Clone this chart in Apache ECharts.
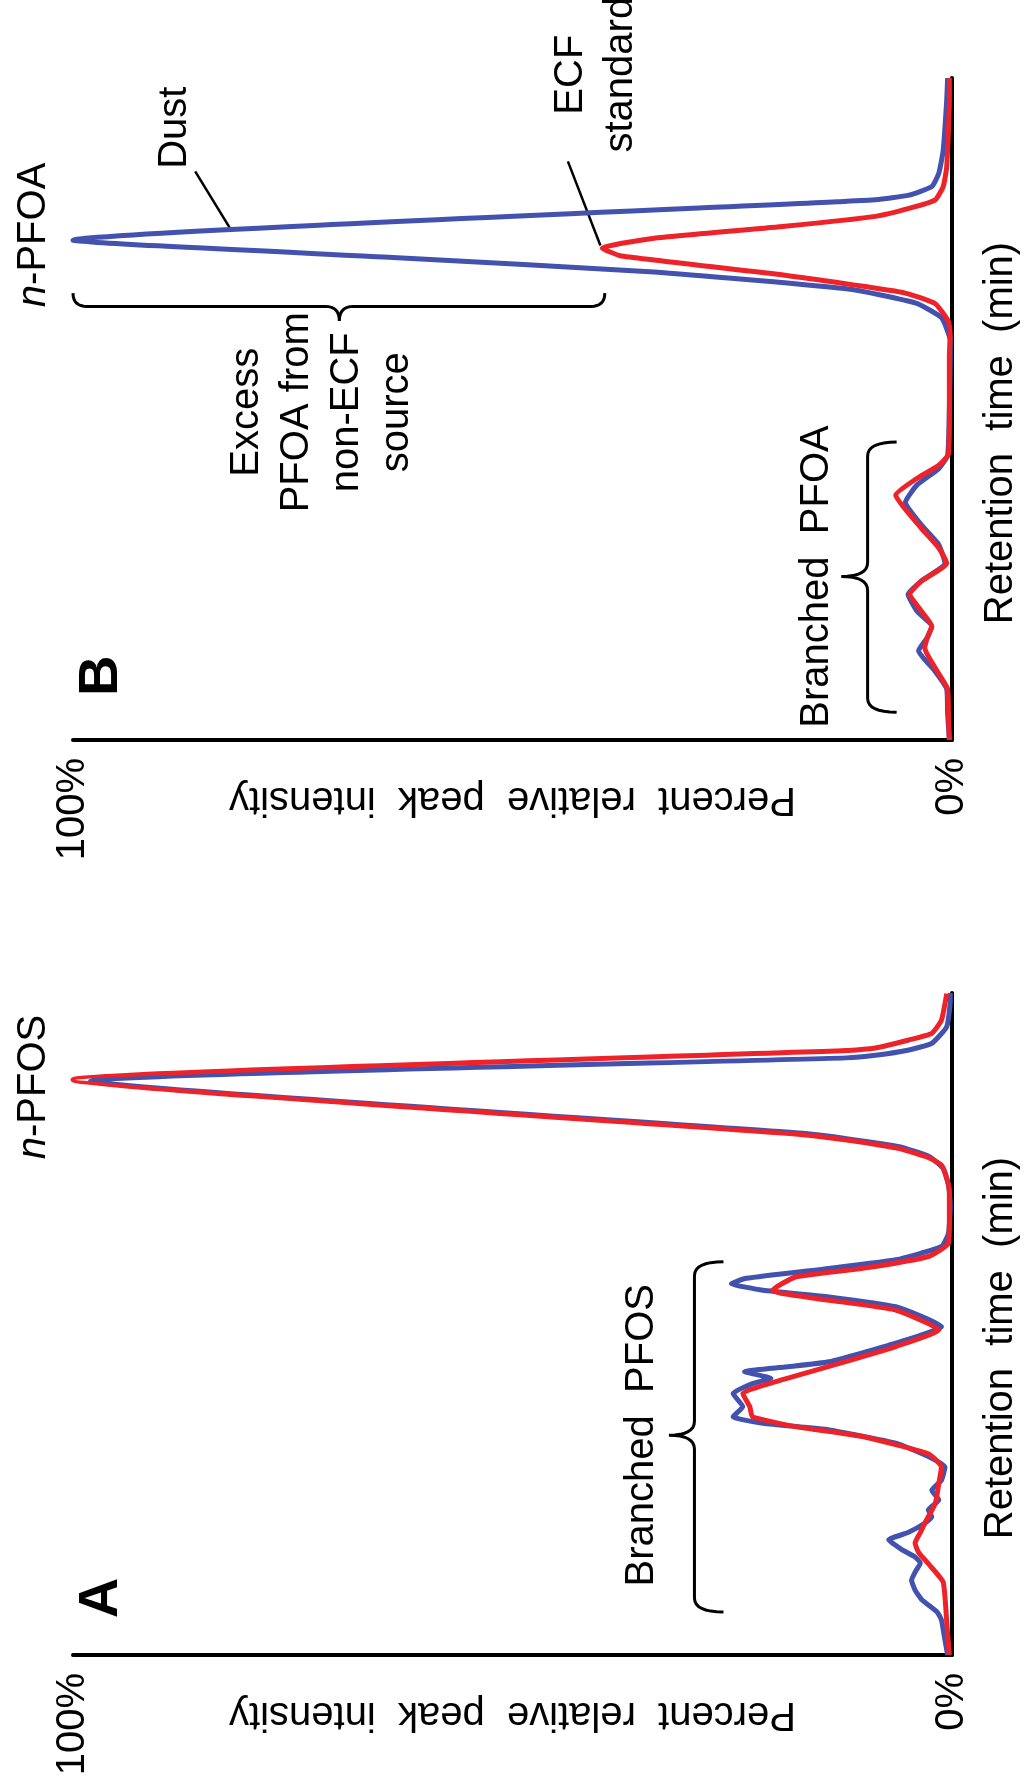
<!DOCTYPE html>
<html><head><meta charset="utf-8">
<script src="https://cdn.jsdelivr.net/npm/echarts@6/dist/echarts.min.js"></script>
<style>html,body{margin:0;padding:0;background:#fff}#c{width:1029px;height:1785px}</style>
</head><body><div id="c"></div>
<script>
// ---- DATA (retention position = % of run, intensity = % of largest peak) ----
// Panel A: PFOS
const pfosDustT = [0,3,5.3,6.5,8.3,9.8,11.3,12.5,13.9,14.8,16,17.4,18.5,19.9,20.9,21.9,23.4,24.9,26.4,28.4,30,32,34,35,36,37.5,39.5,41,41.8,42.8,43.5,44.3,47.1,49.6,52.6,54.1,55.1,56.1,56.9,58.4,59.7,61.7,63.7,68,71,73.5,75.3,76.8,78,78.8,86.7,90.2,90.6,91.4,92.4,94.9,98.9,100];
const pfosDustI = [0.5,0.9,1.2,1.7,3.4,4.2,4.6,4.2,3.6,4.2,5.8,7.2,5,3.1,2.3,2.7,1.5,2.3,1.2,0.8,2.7,6.4,14,21.5,24.9,23.8,24.9,22.7,20.6,23.6,19,14,6.4,1.2,6.4,14,21.5,25.1,23.4,14,6.4,1.2,0.4,0.2,0.4,1,2.6,6,12,17,98,12,8.7,4.9,2.3,0.6,0.2,0.2];
const pfosEcfT = [0,5,11,13.5,15.5,16.9,18.5,19.9,22.9,25.9,28.4,30.4,33,34.5,36,37.5,39.5,41,43.6,46.6,49.1,52.1,53.6,54.6,55.1,57.1,58.4,60.2,62.2,66,70,72,74,75.1,76.5,77.8,78.6,86.9,91.3,91.7,92.9,93.9,95.9,99.9];
const pfosEcfI = [0.3,0.6,1,2.5,3.8,4.2,3.6,3.1,1.9,1.5,1.2,2.7,10.2,17.8,22.7,23,23.8,20.8,14,6.4,1.5,6.4,14,19.3,20.4,17.8,10.2,2.7,0.4,0.3,0.3,0.6,1.2,2.6,6,12,17,100,12,8.7,4.9,2.3,1.2,0.6];
// Panel B: PFOA
const pfoaDustT = [0,4,7.7,10.5,13.5,15.5,17.2,19.5,22,24,26.7,29.5,32.5,35.9,38.5,41,43,50,58,60.3,63.8,66,68.1,70.7,72.9,75.5,81.3,81.6,82.3,83.6,85.6,89.1,96.7,100];
const pfoaDustI = [0.3,0.5,0.6,2,3.8,2.8,2.3,4,5,3.5,0.8,1.5,3.5,5.3,4,1.5,0.5,0.3,0.2,0.2,1.2,4.1,11.6,33.9,63.6,100,13.1,8.7,4.9,2.3,1.5,1,0.6,0.5];
const pfoaEcfT = [0,4,7.7,10,13.9,15.5,17.2,19.5,22,24,26.7,29,32,37,39.5,41.5,43.2,50,58,61,63.2,65.9,67.6,70.2,73.1,74.3,75.8,77.6,79.1,80.3,81.6,83.6,86.6,96.7,100];
const pfoaEcfI = [0.3,0.4,0.5,1.5,3.1,2.8,2.3,3.5,4.8,3.5,0.6,1.5,3.5,6.4,4,1.5,0.4,0.3,0.3,0.2,0.4,1.9,5.6,19,37.6,39.8,33.9,19,8.7,4.9,1.9,1,0.6,0.3,0.3];
// axis text
const intensityTicks = [0, 100];
const intensityTitle = 'Percent  relative  peak  intensity';
const timeTitle = 'Retention  time  (min)';
const seriesNames = ['Dust', 'ECF standard'];

// ---- CHART ----
const FONT = '"Liberation Sans", Arial, Helvetica, sans-serif';
const BLUE = '#4252AE', RED = '#EE2229';
const chart = echarts.init(document.getElementById('c'));
const pairs = (T, I) => T.map((t, k) => [I[k], t]);

function xAx(gi) {
  return {
    type: 'value', gridIndex: gi, min: intensityTicks[0], max: intensityTicks[1], interval: 100, inverse: true,
    axisLine: { show: true, onZero: false, lineStyle: { color: '#000', width: 4 } },
    axisTick: { show: false }, splitLine: { show: false },
    axisLabel: { show: true, rotate: 90, margin: 18, fontSize: 40, fontFamily: FONT, color: '#000',
      formatter: v => v + '%' },
    name: intensityTitle, nameLocation: 'middle', nameRotate: 180, nameGap: 39, nameMoveOverlap: false,
    nameTextStyle: { fontSize: 40, fontFamily: FONT, color: '#000' }
  };
}
function yAx(gi) {
  return {
    type: 'value', gridIndex: gi, min: 0, max: 100, position: 'right',
    axisLine: { show: true, onZero: false, lineStyle: { color: '#000', width: 4 } },
    axisTick: { show: false }, axisLabel: { show: false }, splitLine: { show: false },
    name: timeTitle, nameLocation: 'middle', nameRotate: 90, nameGap: 29, nameMoveOverlap: false,
    nameTextStyle: { fontSize: 40, fontFamily: FONT, color: '#000', padding: [0, 48, 0, 0] }
  };
}
function line(name, gi, data, color) {
  return { type: 'line', name, xAxisIndex: gi, yAxisIndex: gi, data, showSymbol: false, symbol: 'none',
    smooth: 0.15, lineStyle: { color, width: 5 }, itemStyle: { color }, silent: true };
}

chart.setOption({
  animation: false,
  backgroundColor: '#fff',
  textStyle: { fontFamily: FONT },
  grid: [
    { left: 73, top: 78, width: 884, height: 662 },
    { left: 73, top: 993, width: 884, height: 662 }
  ],
  xAxis: [xAx(0), xAx(1)],
  yAxis: [yAx(0), yAx(1)],
  series: [
    line(seriesNames[0], 0, pairs(pfoaDustT, pfoaDustI), BLUE),
    line(seriesNames[1], 0, pairs(pfoaEcfT, pfoaEcfI), RED),
    line(seriesNames[0], 1, pairs(pfosDustT, pfosDustI), BLUE),
    line(seriesNames[1], 1, pairs(pfosEcfT, pfosEcfI), RED)
  ]
});

// ---- ANNOTATIONS (placed in data coordinates: [intensity %, retention %]) ----
const px = (gi, I, t) => chart.convertToPixel({ gridIndex: gi }, [I, t]);
function quad(p0, c, p1, n) {
  const out = [];
  for (let k = 0; k <= n; k++) {
    const s = k / n, a = (1 - s) * (1 - s), b = 2 * s * (1 - s), d = s * s;
    out.push([a * p0[0] + b * c[0] + d * p1[0], a * p0[1] + b * c[1] + d * p1[1]]);
  }
  return out;
}
function braceV(gi, iSpine, iHook, iTip, tTop, tBot, tTip) {
  const xs = px(gi, iSpine, 0)[0], xh = px(gi, iHook, 0)[0], xt = px(gi, iTip, 0)[0];
  const yT = px(gi, 0, tTop)[1], yB = px(gi, 0, tBot)[1], yM = px(gi, 0, tTip)[1];
  const r = 14;
  let pts = [];
  pts = pts.concat(quad([xh, yT], [xs, yT], [xs, yT + r], 8));
  pts = pts.concat(quad([xs, yM - r], [xs, yM], [xt, yM], 8));
  pts = pts.concat(quad([xt, yM], [xs, yM], [xs, yM + r], 8));
  pts = pts.concat(quad([xs, yB - r], [xs, yB], [xh, yB], 8));
  return { type: 'polyline', shape: { points: pts }, style: { stroke: '#000', lineWidth: 3, fill: null }, silent: true };
}
function braceH(gi, iL, iR, iTip, tEnd, tSpine, tTip) {
  const xL = px(gi, iL, 0)[0], xR = px(gi, iR, 0)[0], xT = px(gi, iTip, 0)[0];
  const yE = px(gi, 0, tEnd)[1], yS = px(gi, 0, tSpine)[1], yP = px(gi, 0, tTip)[1];
  const r = 14;
  let pts = [];
  pts = pts.concat(quad([xL, yE], [xL, yS], [xL + r, yS], 8));
  pts = pts.concat(quad([xT - r, yS], [xT, yS], [xT, yP], 8));
  pts = pts.concat(quad([xT, yP], [xT, yS], [xT + r, yS], 8));
  pts = pts.concat(quad([xR - r, yS], [xR, yS], [xR, yE], 8));
  return { type: 'polyline', shape: { points: pts }, style: { stroke: '#000', lineWidth: 3, fill: null }, silent: true };
}
function txt(gi, I, t, text, size, extra) {
  const p = px(gi, I, t);
  return { type: 'text', x: p[0], y: p[1], rotation: Math.PI / 2, silent: true,
    style: Object.assign({ text, fontSize: size, fontFamily: FONT, fill: '#000', align: 'center', verticalAlign: 'middle', lineHeight: 50 }, extra || {}) };
}
function italicN(gi, I, t, rest) {
  const p = px(gi, I, t);
  const base = { fontSize: 40, fontFamily: FONT, fill: '#000' };
  return { type: 'text', x: p[0], y: p[1], rotation: Math.PI / 2, silent: true,
    style: { text: '{i|n}{r|' + rest + '}', align: 'center', verticalAlign: 'middle', fontSize: 40, fontFamily: FONT,
      rich: { i: Object.assign({ fontStyle: 'italic' }, base), r: base } } };
}
function seg(gi, I1, t1, I2, t2) {
  const a = px(gi, I1, t1), b = px(gi, I2, t2);
  return { type: 'line', shape: { x1: a[0], y1: a[1], x2: b[0], y2: b[1] }, style: { stroke: '#000', lineWidth: 2.5 }, silent: true };
}

const G = [];
// panel B (grid 0)
G.push(txt(0, 96.8, 9.7, 'B', 56, { fontWeight: 'bold' }));
G.push(italicN(0, 104.4, 76.3, '-PFOA'));
G.push(txt(0, 88.4, 92.5, 'Dust', 40));
G.push(seg(0, 86.1, 85.9, 81.9, 76.8));
G.push(txt(0, 40.5, 100.5, 'ECF\nstandard', 40));
G.push(seg(0, 43.7, 87.4, 40.0, 74.7));
G.push(braceH(0, 100, 39.5, 69.7, 67.5, 65.5, 63.3));
G.push(txt(0, 71.7, 49.5, 'Excess\nPFOA from\nnon-ECF\nsource', 40));
G.push(braceV(0, 9.6, 6.3, 12.6, 45.0, 4.2, 24.7));
G.push(txt(0, 15.4, 24.7, 'Branched  PFOA', 40));
// panel A (grid 1)
G.push(txt(1, 96.8, 8.6, 'A', 56, { fontWeight: 'bold' }));
G.push(italicN(1, 104.4, 85.8, '-PFOS'));
G.push(braceV(1, 29.3, 26.0, 32.2, 59.4, 6.5, 33.2));
G.push(txt(1, 35.3, 33.2, 'Branched  PFOS', 40));

chart.setOption({ graphic: G });
</script></body></html>
